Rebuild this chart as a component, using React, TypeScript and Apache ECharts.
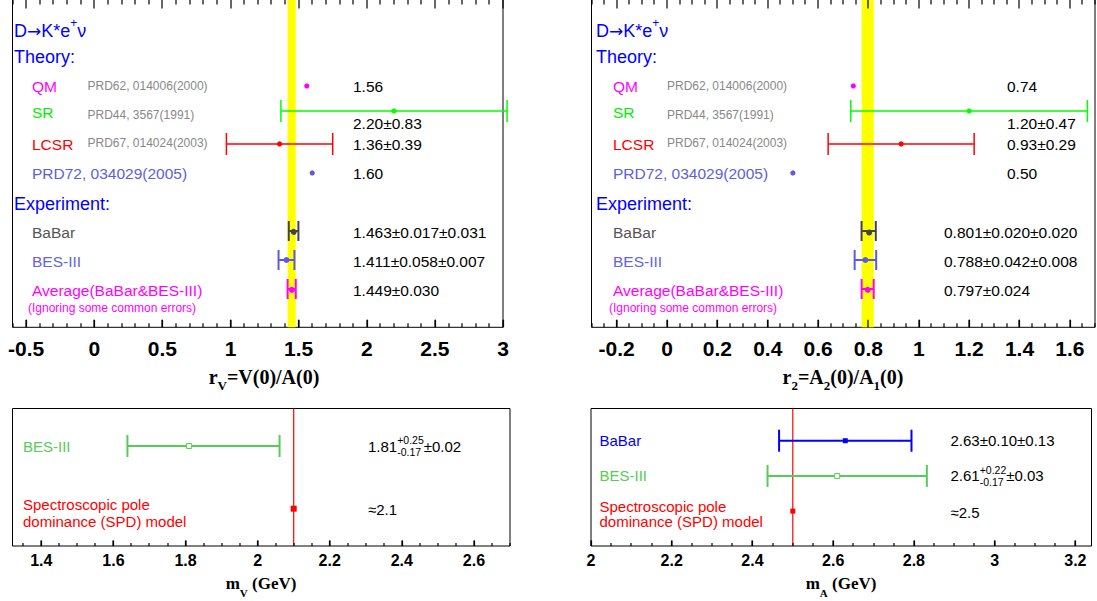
import React, { useEffect, useRef } from 'react';
import * as echarts from 'echarts';

// ---- form-factor ratios for D -> K* e+ nu ----
const theoryNames = ['QM', 'SR', 'LCSR', 'PRD72, 034029(2005)'];
const theoryRefs = ['PRD62, 014006(2000)', 'PRD44, 3567(1991)', 'PRD67, 014024(2003)', ''];
const theoryColors = ['#ff00ff', '#00ff00', '#ff0000', '#5b5bd6'];
const theoryTextColors = ['#ff00ff', '#00ee00', '#ff0000', '#6060dd'];
const rvTheory = [1.56, 2.2, 1.36, 1.6];
const rvTheoryErr = [0, 0.83, 0.39, 0];
const r2Theory = [0.74, 1.2, 0.93, 0.5];
const r2TheoryErr = [0, 0.47, 0.29, 0];

const expNames = ['BaBar', 'BES-III', 'Average(BaBar&BES-III)'];
const expBarColors = ['#444444', '#5b5be0', '#ff00ff'];
const expTextColors = ['#555555', '#6464e0', '#ff00ff'];
const rvExp = [1.463, 1.411, 1.449];
const rvExpStat = [0.017, 0.058, 0.03];
const rvExpSyst = [0.031, 0.007, null];
const r2Exp = [0.801, 0.788, 0.797];
const r2ExpStat = [0.02, 0.042, 0.024];
const r2ExpSyst = [0.02, 0.008, null];

// ---- pole masses (GeV) ----
const mvNames = ['BES-III'];
const mvColors = ['#55cc55'];
const mvValue = [1.81];
const mvErrPlus = [0.25];
const mvErrMinus = [0.17];
const mvSyst = [0.02];
const mvSpd = 2.1;

const maNames = ['BaBar', 'BES-III'];
const maColors = ['#0000ff', '#55cc55'];
const maValue = [2.63, 2.61];
const maErrPlus = [0.1, 0.22];
const maErrMinus = [0.1, 0.17];
const maSyst = [0.13, 0.03];
const maSpd = 2.5;

// ---- axis tick labels ----
const rvTicks = [-0.5, 0, 0.5, 1, 1.5, 2, 2.5, 3];
const r2Ticks = [-0.2, 0, 0.2, 0.4, 0.6, 0.8, 1, 1.2, 1.4, 1.6];
const mvTicks = [1.4, 1.6, 1.8, 2, 2.2, 2.4, 2.6];
const maTicks = [2, 2.2, 2.4, 2.6, 2.8, 3, 3.2];

const SANS = "'Liberation Sans', Arial, Helvetica, sans-serif";
const SERIF = "'Liberation Serif', 'Times New Roman', serif";

const quad = (a: number, b: number | null) => Math.sqrt(a * a + (b || 0) * (b || 0));

const measureCtx = document.createElement('canvas').getContext('2d') as CanvasRenderingContext2D;
function textWidth(s: string, size: number) {
  measureCtx.font = `${size}px ${SANS}`;
  return measureCtx.measureText(s).width;
}

function minorValues(min: number, max: number, step: number, majors: number[]) {
  const out: number[] = [];
  const start = Math.ceil(min / step - 1e-9);
  for (let k = start; k * step <= max + 1e-9; k++) {
    const v = Math.round(k * step * 1000) / 1000;
    if (!majors.some((m) => Math.abs(m - v) < 1e-9)) out.push(v);
  }
  return out;
}

type Bar = {
  x: number;
  lo: number;
  hi: number;
  row: number;
  color: string;
  marker: 'circle' | 'square' | 'open';
  size: number;
  width: number;
  cap: number;
};

type TickOpts = { top: boolean; label: number; margin: number; major: number; minor: number; topMajor: number; topMinor: number };

// panel boxes in page pixels
const panels = [
  { left: 12.5, top: -1, width: 490.5, height: 328.3 },
  { left: 591.5, top: -1, width: 503.5, height: 328.3 },
  { left: 12.5, top: 408.5, width: 497.5, height: 137.5 },
  { left: 591, top: 408.5, width: 500.5, height: 137.5 },
];

function buildOption() {
  const xAxes: any[] = [];
  const yAxes: any[] = [];
  const frameTicks: any[] = [];

  const addAxes = (grid: number, min: number, max: number, ymin: number, ymax: number, ticks: number[], step: number, o: TickOpts) => {
    const minors = minorValues(min, max, step, ticks);
    xAxes.push({
      type: 'value',
      gridIndex: grid,
      min,
      max,
      position: 'bottom',
      axisLine: { show: false, onZero: false },
      splitLine: { show: false },
      axisTick: { show: true, inside: true, length: o.major, customValues: ticks, lineStyle: { color: '#000', width: 1.2 } },
      axisLabel: {
        show: true,
        customValues: ticks,
        fontSize: o.label,
        fontWeight: 'bold',
        fontFamily: SANS,
        color: '#000',
        margin: o.margin,
        formatter: (v: number) => String(v),
      },
    });
    yAxes.push({ type: 'value', gridIndex: grid, min: ymin, max: ymax, inverse: true, show: false });

    // frame ticks laid out along the panel edges with the same linear scale as the axis
    const p = panels[grid];
    const px = (v: number) => p.left + ((v - min) / (max - min)) * p.width;
    const bottom = p.top + p.height;
    const add = (v: number, major: boolean) => {
      const x = Math.round(px(v)) - 0.6;
      const lb = major ? o.major : o.minor;
      frameTicks.push({ type: 'rect', silent: true, z: 100, shape: { x, y: bottom - lb, width: 1.2, height: lb }, style: { fill: '#000' } });
      if (o.top) {
        const lt = major ? o.topMajor : o.topMinor;
        frameTicks.push({ type: 'rect', silent: true, z: 100, shape: { x, y: p.top, width: 1.2, height: lt }, style: { fill: '#000' } });
      }
    };
    ticks.forEach((v) => add(v, true));
    minors.forEach((v) => add(v, false));
  };

  const grids = panels.map((g) => ({
    ...g,
    show: true,
    borderColor: '#000',
    borderWidth: 1,
    backgroundColor: 'transparent',
    containLabel: false,
    outerBoundsMode: 'none',
  }));

  const topOpts: TickOpts = { top: true, label: 21, margin: 11, major: 7.5, minor: 4, topMajor: 9.5, topMinor: 5.5 };
  const botOpts: TickOpts = { top: false, label: 16, margin: 6, major: 5.5, minor: 3, topMajor: 0, topMinor: 0 };
  addAxes(0, -0.6, 3.0, -3.0, 8.321, rvTicks, 0.1, topOpts);
  addAxes(1, -0.3, 1.7, -3.0, 8.321, r2Ticks, 0.05, topOpts);
  addAxes(2, 1.32, 2.7, -0.598, 1.595, mvTicks, 0.05, botOpts);
  addAxes(3, 2.0, 3.24, -0.915, 2.991, maTicks, 0.05, botOpts);

  const theoryRows = [0, 0.86, 2, 3];
  const expRows = [5, 6, 7];

  const errorSeries = (grid: number, bars: Bar[]) => ({
    type: 'custom',
    xAxisIndex: grid,
    yAxisIndex: grid,
    z: 5,
    silent: true,
    clip: false,
    data: bars.map((b) => [b.x, b.row, b.lo, b.hi]),
    renderItem: (params: any, api: any) => {
      const b = bars[params.dataIndex];
      const c = api.coord([api.value(0), api.value(1)]);
      const l = api.coord([api.value(2), api.value(1)]);
      const h = api.coord([api.value(3), api.value(1)]);
      const children: any[] = [];
      if (h[0] - l[0] > 0.5) {
        const st = { stroke: b.color, lineWidth: b.width };
        children.push({ type: 'line', shape: { x1: l[0], y1: c[1], x2: h[0], y2: c[1] }, style: st });
        children.push({ type: 'line', shape: { x1: l[0], y1: c[1] - b.cap / 2, x2: l[0], y2: c[1] + b.cap / 2 }, style: st });
        children.push({ type: 'line', shape: { x1: h[0], y1: c[1] - b.cap / 2, x2: h[0], y2: c[1] + b.cap / 2 }, style: st });
      }
      if (b.marker === 'circle') {
        children.push({ type: 'circle', shape: { cx: c[0], cy: c[1], r: b.size }, style: { fill: b.color } });
      } else {
        children.push({
          type: 'rect',
          shape: { x: c[0] - b.size / 2, y: c[1] - b.size / 2, width: b.size, height: b.size },
          style: b.marker === 'open' ? { fill: '#fff', stroke: b.color, lineWidth: 1 } : { fill: b.color },
        });
      }
      return { type: 'group', children };
    },
  });

  // yellow band: experimental average
  const bandSeries = (grid: number, lo: number, hi: number) => ({
    type: 'custom',
    xAxisIndex: grid,
    yAxisIndex: grid,
    z: 1,
    silent: true,
    data: [[lo, hi]],
    renderItem: (params: any, api: any) => {
      const cs = params.coordSys;
      const x1 = api.coord([api.value(0), 0])[0];
      const x2 = api.coord([api.value(1), 0])[0];
      return { type: 'rect', shape: { x: x1, y: cs.y, width: x2 - x1, height: cs.height }, style: { fill: '#ffff00' } };
    },
  });

  // vertical reference line: SPD model
  const vlineSeries = (grid: number, v: number) => ({
    type: 'custom',
    xAxisIndex: grid,
    yAxisIndex: grid,
    z: 2,
    silent: true,
    data: [[v, 0]],
    renderItem: (params: any, api: any) => {
      const cs = params.coordSys;
      const x = api.coord([api.value(0), 0])[0];
      return { type: 'line', shape: { x1: x, y1: cs.y, x2: x, y2: cs.y + cs.height }, style: { stroke: '#ff0000', lineWidth: 1.2 } };
    },
  });

  const theoryBars = (vals: number[], errs: number[]): Bar[] =>
    vals.map((v, i) => ({
      x: v,
      lo: v - errs[i],
      hi: v + errs[i],
      row: theoryRows[i],
      color: theoryColors[i],
      marker: 'circle',
      size: 2.6,
      width: 1.5,
      cap: 22,
    }));
  const expBars = (vals: number[], stat: number[], syst: (number | null)[]): Bar[] =>
    vals.map((v, i) => {
      const e = quad(stat[i], syst[i]);
      return { x: v, lo: v - e, hi: v + e, row: expRows[i], color: expBarColors[i], marker: 'circle', size: 3, width: 2, cap: 20 };
    });

  const mvBars: Bar[] = mvValue.map((v, i) => ({
    x: v,
    lo: v - quad(mvErrMinus[i], mvSyst[i]),
    hi: v + quad(mvErrPlus[i], mvSyst[i]),
    row: i,
    color: mvColors[i],
    marker: 'open',
    size: 5,
    width: 2,
    cap: 22,
  }));
  mvBars.push({ x: mvSpd, lo: mvSpd, hi: mvSpd, row: mvValue.length, color: '#ff0000', marker: 'square', size: 6, width: 2, cap: 0 });

  const maBars: Bar[] = maValue.map((v, i) => ({
    x: v,
    lo: v - quad(maErrMinus[i], maSyst[i]),
    hi: v + quad(maErrPlus[i], maSyst[i]),
    row: i,
    color: maColors[i],
    marker: i === 0 ? 'square' : 'open',
    size: 5,
    width: 2,
    cap: 22,
  }));
  maBars.push({ x: maSpd, lo: maSpd, hi: maSpd, row: maValue.length, color: '#ff0000', marker: 'square', size: 5, width: 2, cap: 0 });

  const rvAvg = rvExp[2];
  const r2Avg = r2Exp[2];
  const series = [
    bandSeries(0, rvAvg - rvExpStat[2], rvAvg + rvExpStat[2]),
    bandSeries(1, r2Avg - r2ExpStat[2], r2Avg + r2ExpStat[2]),
    vlineSeries(2, mvSpd),
    vlineSeries(3, maSpd),
    errorSeries(0, [...theoryBars(rvTheory, rvTheoryErr), ...expBars(rvExp, rvExpStat, rvExpSyst)]),
    errorSeries(1, [...theoryBars(r2Theory, r2TheoryErr), ...expBars(r2Exp, r2ExpStat, r2ExpSyst)]),
    errorSeries(2, mvBars),
    errorSeries(3, maBars),
  ];

  // ---- text annotations ----
  const graphic: any[] = [];
  const txt = (text: string, x: number, y: number, size: number, fill: string, extra: any = {}) =>
    graphic.push({
      type: 'text',
      x,
      y,
      silent: true,
      z: 10,
      style: { text, fill, fontSize: size, fontFamily: SANS, align: 'left', verticalAlign: 'middle', ...extra },
    });

  const theoryText = (v: number, e: number) => (e > 0 ? `${v.toFixed(2)}±${e.toFixed(2)}` : v.toFixed(2));
  const expText = (v: number, s: number, y: number | null) =>
    y != null ? `${v.toFixed(3)}±${s.toFixed(3)}±${y.toFixed(3)}` : `${v.toFixed(3)}±${s.toFixed(3)}`;

  const topPanel = (
    xs: { title: number; label: number; ref: number; ignore: number; value: number; expValue: number },
    tv: number[],
    te: number[],
    ev: number[],
    es: number[],
    ey: (number | null)[]
  ) => {
    txt('D{arr|→}K*e{sup|+}ν', xs.title, 31, 18, '#0000ff', {
      lineHeight: 28,
      rich: {
        arr: { fontSize: 17, lineHeight: 28, fontFamily: "'DejaVu Sans', sans-serif", fill: '#0000ff' },
        sup: { fontSize: 12, lineHeight: 12, verticalAlign: 'top', fill: '#0000ff', fontFamily: SANS },
      },
    });
    txt('Theory:', xs.title, 56.5, 18, '#0000ff');
    const labelY = [86, 112, 144, 173];
    const refY = [86, 115, 143, 173];
    const valY = [86, 123.5, 144, 173];
    theoryNames.forEach((n, i) => {
      txt(n, xs.label, labelY[i], 15.5, theoryTextColors[i]);
      if (theoryRefs[i]) txt(theoryRefs[i], xs.ref, refY[i], 12, '#888888');
      txt(theoryText(tv[i], te[i]), xs.value, valY[i], 15.5, '#000');
    });
    txt('Experiment:', xs.title, 203.5, 18, '#0000ff');
    const eY = [232, 261, 290];
    expNames.forEach((n, i) => {
      txt(n, xs.label, eY[i], 15.5, expTextColors[i]);
      txt(expText(ev[i], es[i], ey[i]), xs.expValue, eY[i], 15.5, '#000');
    });
    txt('(Ignoring some common errors)', xs.ignore, 307.5, 12, '#ff00ff');
  };

  topPanel({ title: 14, label: 32, ref: 87.5, ignore: 28, value: 353, expValue: 353 }, rvTheory, rvTheoryErr, rvExp, rvExpStat, rvExpSyst);
  topPanel({ title: 596, label: 613, ref: 667, ignore: 609, value: 1007, expValue: 944 }, r2Theory, r2TheoryErr, r2Exp, r2ExpStat, r2ExpSyst);

  // value with asymmetric errors: 1.81^{+0.25}_{-0.17} ± 0.02
  const valueText = (x: number, y: number, v: number, p: number, m: number, s: number) => {
    if (Math.abs(p - m) < 1e-9) {
      txt(`${v.toFixed(2)}±${p.toFixed(2)}±${s.toFixed(2)}`, x, y, 15, '#000');
      return;
    }
    const main = v.toFixed(2);
    const up = `+${p.toFixed(2)}`;
    const dn = `-${m.toFixed(2)}`;
    const w0 = textWidth(main, 15);
    const w1 = Math.max(textWidth(up, 10.5), textWidth(dn, 10.5));
    txt(main, x, y, 15, '#000');
    txt(up, x + w0, y - 6, 10.5, '#000');
    txt(dn, x + w0, y + 6, 10.5, '#000');
    txt(`±${s.toFixed(2)}`, x + w0 + w1, y, 15, '#000');
  };

  // m_V panel
  mvNames.forEach((n, i) => {
    txt(n, 23, 446, 15, mvColors[i]);
    valueText(368, 446, mvValue[i], mvErrPlus[i], mvErrMinus[i], mvSyst[i]);
  });
  txt('Spectroscopic pole', 23, 504, 15, '#ff0000');
  txt('dominance (SPD) model', 23, 521.5, 15, '#ff0000');
  txt(`≈${mvSpd.toFixed(1)}`, 368, 509.5, 15, '#000');

  // m_A panel
  const maY = [440.7, 475.7];
  maNames.forEach((n, i) => {
    txt(n, 599.5, maY[i], 15, maColors[i]);
    valueText(950.5, maY[i], maValue[i], maErrPlus[i], maErrMinus[i], maSyst[i]);
  });
  txt('Spectroscopic pole', 599.5, 506, 15, '#ff0000');
  txt('dominance (SPD) model', 599.5, 521.5, 15, '#ff0000');
  txt(`≈${maSpd.toFixed(1)}`, 950.5, 512, 15, '#000');

  // axis titles with subscripts
  const title = (text: string, x: number, y: number, size: number, sub: number, drop: number) =>
    txt(text, x, y, size, '#000', {
      align: 'center',
      fontFamily: SERIF,
      fontWeight: 'bold',
      lineHeight: 30,
      rich: { sub: { fontSize: sub, lineHeight: 2 * (15 - drop), verticalAlign: 'bottom', fontFamily: SERIF, fontWeight: 'bold', fill: '#000' } },
    });
  title('r{sub|V}=V(0)/A(0)', 264, 376.5, 20, 13, 8);
  title('r{sub|2}=A{sub|2}(0)/A{sub|1}(0)', 843, 376.5, 20, 13, 8);
  title('m{sub|V} (GeV)', 261, 583, 17, 11, 6.5);
  title('m{sub|A} (GeV)', 841, 583, 17, 11, 6.5);

  return {
    animation: false,
    grid: grids,
    xAxis: xAxes,
    yAxis: yAxes,
    series,
    graphic: [...frameTicks, ...graphic],
  };
}

export default function App() {
  const ref = useRef<HTMLDivElement>(null);
  useEffect(() => {
    const chart = echarts.init(ref.current as HTMLDivElement, null, { renderer: 'svg' });
    chart.setOption(buildOption() as any);
    return () => chart.dispose();
  }, []);
  return <div ref={ref} style={{ position: 'absolute', left: 0, top: 0, width: 1097, height: 601, background: '#ffffff' }} />;
}
